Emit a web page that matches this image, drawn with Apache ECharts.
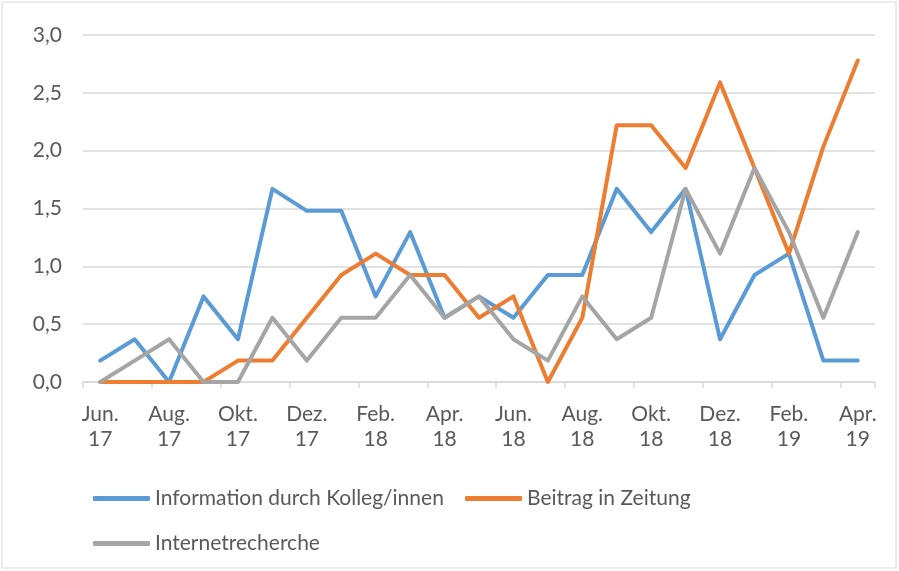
<!DOCTYPE html>
<html><head><meta charset="utf-8">
<script src="https://cdn.jsdelivr.net/npm/echarts@6/dist/echarts.min.js"></script>
<style>html,body{margin:0;padding:0;background:#fff}#c{width:899px;height:571px}</style>
</head><body><div id="c"></div>
<script>
var categories = ['Jun.\n17','Jul.\n17','Aug.\n17','Sep.\n17','Okt.\n17','Nov.\n17','Dez.\n17','Jan.\n18','Feb.\n18','Mär.\n18','Apr.\n18','Mai.\n18','Jun.\n18','Jul.\n18','Aug.\n18','Sep.\n18','Okt.\n18','Nov.\n18','Dez.\n18','Jan.\n19','Feb.\n19','Mär.\n19','Apr.\n19'];
var seriesNames = ['Information durch Kolleg/innen','Beitrag in Zeitung','Internetrecherche'];
var kollegen = [0.185,0.37,0,0.74,0.37,1.67,1.48,1.48,0.74,1.296,0.555,0.74,0.555,0.925,0.925,1.67,1.296,1.67,0.37,0.925,1.11,0.185,0.185];
var zeitung = [0,0,0,0,0.185,0.185,0.555,0.925,1.11,0.925,0.925,0.555,0.74,0,0.555,2.22,2.22,1.85,2.59,1.85,1.11,2.035,2.78];
var internet = [0,0.185,0.37,0,0,0.555,0.185,0.555,0.555,0.925,0.555,0.74,0.37,0.185,0.74,0.37,0.555,1.67,1.11,1.85,1.296,0.555,1.296];
var colors = ['#5B9BD5','#ED7D31','#A5A5A5'];
var font = 'Lato, "Open Sans", sans-serif';
var chart = echarts.init(document.getElementById('c'));
function mkSeries(name, data, color){
  return {name:name,type:'line',data:data,symbol:'none',smooth:false,
    lineStyle:{color:color,width:4,cap:'round',join:'round'},itemStyle:{color:color}};
}
function mkLegend(name, left, top){
  return {data:[name],left:left,top:top,itemWidth:57,itemHeight:5,itemGap:0,
    icon:'roundRect',textStyle:{color:'#595959',fontSize:21,fontFamily:font,padding:[0,0,0,0]}};
}
chart.setOption({
  animation:false,
  backgroundColor:'#fff',
  graphic:[{type:'rect',shape:{x:2,y:2,width:894,height:566},style:{fill:'none',stroke:'#D9D9D9',lineWidth:1}}],
  grid:{left:83,right:24,top:35,bottom:189,containLabel:false},
  legend:[mkLegend(seriesNames[0],88,483),mkLegend(seriesNames[1],460,483),mkLegend(seriesNames[2],88,528)],
  xAxis:{type:'category',data:categories,boundaryGap:true,
    axisLine:{lineStyle:{color:'#D9D9D9',width:1.5}},
    axisTick:{show:true,interval:1,length:6,lineStyle:{color:'#D9D9D9',width:1.5}},
    axisLabel:{interval:1,color:'#595959',fontSize:21,fontFamily:font,lineHeight:25,margin:20}},
  yAxis:{type:'value',min:0,max:3,interval:0.5,
    axisLine:{show:false},axisTick:{show:false},
    splitLine:{lineStyle:{color:'#D9D9D9',width:1.5}},
    axisLabel:{color:'#595959',fontSize:21,fontFamily:font,margin:21,
      formatter:function(v){return v.toFixed(1).replace('.',',');}}},
  series:[mkSeries(seriesNames[0],kollegen,colors[0]),mkSeries(seriesNames[1],zeitung,colors[1]),mkSeries(seriesNames[2],internet,colors[2])]
});
</script></body></html>
